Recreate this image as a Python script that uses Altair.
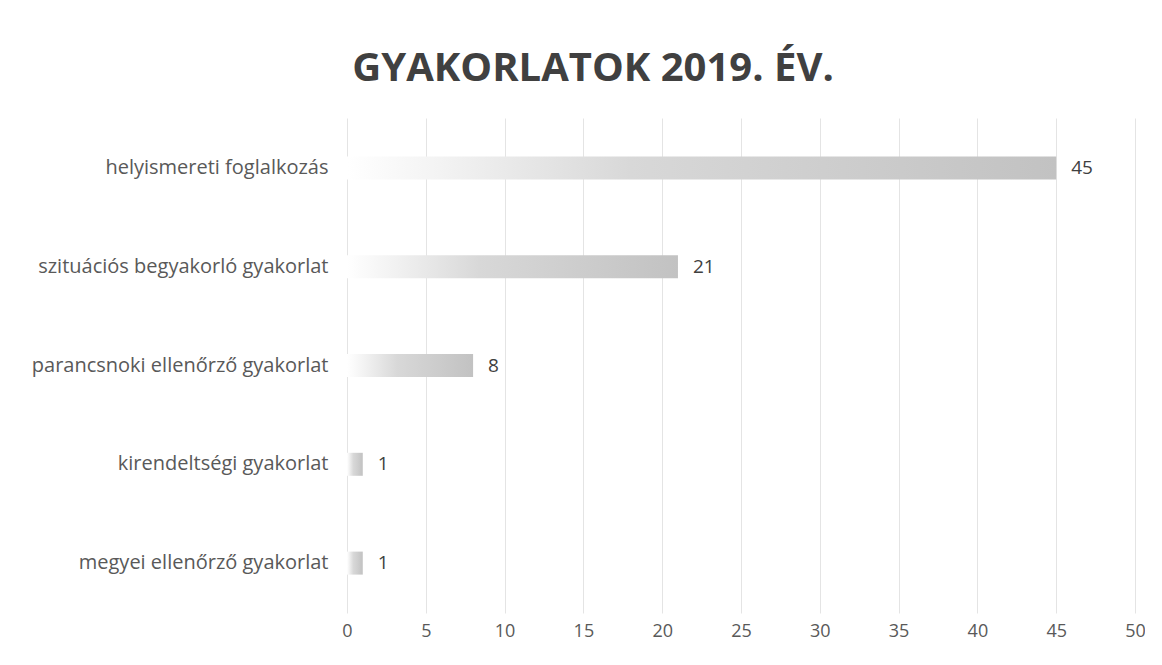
import altair as alt
import pandas as pd

categories = [
    "helyismereti foglalkozás",
    "szituációs begyakorló gyakorlat",
    "parancsnoki ellenőrző gyakorlat",
    "kirendeltségi gyakorlat",
    "megyei ellenőrző gyakorlat",
]
values = [45, 21, 8, 1, 1]
x_ticks = [0, 5, 10, 15, 20, 25, 30, 35, 40, 45, 50]

df = pd.DataFrame({"cat": categories, "val": values})

FONT = "Open Sans"

y_enc = alt.Y(
    "cat:N",
    sort=categories,
    title=None,
    scale=alt.Scale(paddingInner=0.77, paddingOuter=0.39),
    axis=alt.Axis(
        labelFont=FONT,
        labelFontSize=20,
        labelColor="#595959",
        labelPadding=19,
        ticks=False,
        domain=False,
        grid=False,
        labelLimit=400,
    ),
)
x_enc = alt.X(
    "val:Q",
    title=None,
    scale=alt.Scale(domain=[0, 50], nice=False),
    axis=alt.Axis(
        values=x_ticks,
        labelFont=FONT,
        labelFontSize=18,
        labelColor="#595959",
        labelPadding=9,
        labelFlush=False,
        ticks=False,
        domain=False,
        grid=True,
        gridColor="#e4e4e4",
        gridWidth=1,
    ),
)

bars = alt.Chart(df).mark_bar(
    size=23,
    color={
        "gradient": "linear",
        "x1": 0, "y1": 0, "x2": 1, "y2": 0,
        "stops": [
            {"offset": 0, "color": "#ffffff"},
            {"offset": 0.12, "color": "#f4f4f4"},
            {"offset": 0.4, "color": "#d8d8d8"},
            {"offset": 1, "color": "#c2c2c2"},
        ],
    },
).encode(x=x_enc, y=y_enc)

labels = alt.Chart(df).mark_text(
    align="left", baseline="middle", dx=15, font=FONT, fontSize=19, color="#404040"
).encode(
    x=alt.X("val:Q"),
    y=alt.Y("cat:N", sort=categories),
    text="val:Q",
)

chart = (
    (bars + labels)
    .properties(
        width=788,
        height=495,
        background="white",
        title=alt.TitleParams(
            "GYAKORLATOK 2019. ÉV.",
            font=FONT,
            fontSize=40,
            fontWeight="bold",
            color="#404040",
            anchor="middle",
            dx=-148,
            offset=29,
        ),
        autosize=alt.AutoSizeParams(type="none"),
        padding={"left": 339, "top": 110, "right": 10, "bottom": 40},
    )
    .configure_view(stroke="transparent", strokeWidth=0)
)

chart.save("out.html", embed_options={"renderer": "svg", "actions": False})
